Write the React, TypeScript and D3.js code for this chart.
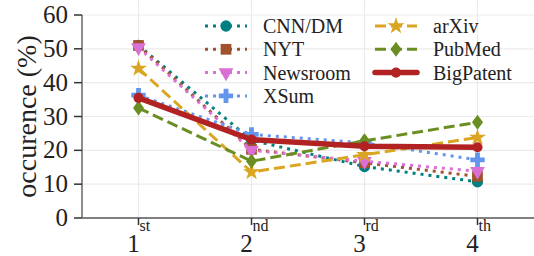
import React from 'react'
import * as d3 from 'd3'

// ranks along the x axis
const ranks = ['1', '2', '3', '4']
const rankSuffix = ['st', 'nd', 'rd', 'th']

// occurence (%) per dataset, one value per rank
const cnndm = [51, 23, 15.2, 10.7]
const nyt = [51, 20.3, 16.3, 12.3]
const newsroom = [50.4, 20, 16.8, 13.8]
const xsum = [36.3, 24.7, 22.2, 17.2]
const arxiv = [44.2, 13.6, 18.7, 23.8]
const pubmed = [32.5, 16.8, 22.8, 28.3]
const bigpatent = [35.5, 23.2, 21.2, 20.9]

const yTicks = [0, 10, 20, 30, 40, 50, 60]

const series = [
  { name: 'CNN/DM', values: cnndm, color: '#008080', dash: '3,5', width: 3, marker: 'circle' },
  { name: 'NYT', values: nyt, color: '#a0522d', dash: '3,5', width: 3, marker: 'square' },
  { name: 'Newsroom', values: newsroom, color: '#da70d6', dash: '3,5', width: 3, marker: 'tri' },
  { name: 'XSum', values: xsum, color: '#6495ed', dash: '3,5', width: 3, marker: 'plus' },
  { name: 'arXiv', values: arxiv, color: '#daa520', dash: '11,5', width: 3, marker: 'star' },
  { name: 'PubMed', values: pubmed, color: '#6b8e23', dash: '11,5', width: 3, marker: 'diamond' },
  { name: 'BigPatent', values: bigpatent, color: '#b22222', dash: null, width: 5.5, marker: 'dot' }
]

const FONT = 'Liberation Serif'

function markerPath(kind: string) {
  if (kind === 'circle') return d3.symbol(d3.symbolCircle, 100)()
  if (kind === 'square') return d3.symbol(d3.symbolSquare, 115)()
  if (kind === 'tri') return d3.symbol(d3.symbolTriangle, 95)()
  if (kind === 'plus') return d3.symbol(d3.symbolCross, 115)()
  if (kind === 'star') return d3.symbol(d3.symbolStar, 90)()
  if (kind === 'dot') return d3.symbol(d3.symbolCircle, 80)()
  // thin diamond
  return 'M0,-7.5L5.5,0L0,7.5L-5.5,0Z'
}

function Marker({ kind, color, x, y }: { kind: string; color: string; x: number; y: number }) {
  const rot = kind === 'tri' ? ' rotate(180)' : ''
  return <path d={markerPath(kind) || ''} fill={color} transform={`translate(${x},${y})${rot}`} />
}

export default function App() {
  const width = 534, height = 256
  const left = 82, right = 534, top = 15, bottom = 218

  const x = d3.scalePoint().domain(ranks).range([left, right]).padding(0.5)
  const y = d3.scaleLinear().domain([0, 60]).range([bottom, top])

  const line = d3.line<number>()
    .x((d, i) => x(ranks[i]) as number)
    .y(d => y(d))

  const axisColor = '#808080'
  const gridColor = '#ebebeb'
  const txt = { fontFamily: FONT }

  return (
    <svg width={width} height={height} style={{ position: 'absolute', left: 0, top: 0, background: '#fff' }}>
      {/* grid */}
      {yTicks.map(t => (
        <line key={'gy' + t} x1={left} x2={right} y1={y(t)} y2={y(t)} stroke={gridColor} strokeWidth={1.2} />
      ))}
      {ranks.map(r => (
        <line key={'gx' + r} x1={x(r)} x2={x(r)} y1={top - 15} y2={bottom} stroke={gridColor} strokeWidth={1.2} />
      ))}

      {/* lines */}
      {series.map(s => (
        <g key={s.name}>
          <path d={line(s.values) || ''} fill="none" stroke={s.color} strokeWidth={s.width}
            strokeDasharray={s.dash || undefined} strokeLinecap={s.dash ? 'butt' : 'round'} />
          {s.values.map((v, i) => (
            <Marker key={i} kind={s.marker} color={s.color} x={x(ranks[i]) as number} y={y(v)} />
          ))}
        </g>
      ))}

      {/* axes */}
      <line x1={left} x2={left} y1={top} y2={bottom} stroke={axisColor} strokeWidth={1.8} />
      <line x1={left} x2={right} y1={bottom} y2={bottom} stroke={axisColor} strokeWidth={1.8} />
      {yTicks.map(t => (
        <g key={'ty' + t}>
          <line x1={left - 8} x2={left} y1={y(t)} y2={y(t)} stroke="#333" strokeWidth={1.5} />
          <text x={left - 14} y={y(t) + 8} textAnchor="end" fontSize={25} fill="#222" style={txt}>{t}</text>
        </g>
      ))}
      {ranks.map((r, i) => (
        <g key={'tx' + r}>
          <line x1={x(r)} x2={x(r)} y1={bottom} y2={bottom + 7} stroke="#333" strokeWidth={1.5} />
          <text x={(x(r) as number) - 5} y={252} textAnchor="middle" fontSize={25} fill="#222" style={txt}>{r}</text>
          <text x={(x(r) as number) + 1} y={231} textAnchor="start" fontSize={16} fill="#222" style={txt}>{rankSuffix[i]}</text>
        </g>
      ))}
      <text transform={`translate(36,${(top + bottom) / 2}) rotate(-90)`} textAnchor="middle"
        fontSize={28} fill="#222" style={txt}>occurence (%)</text>

      {/* legend */}
      {series.map((s, i) => {
        const col = i < 4 ? 0 : 1
        const row = i < 4 ? i : i - 4
        const x0 = col === 0 ? 205 : 375
        const ly = 26 + row * 23.3
        return (
          <g key={'lg' + s.name}>
            <line x1={x0} x2={x0 + 42} y1={ly} y2={ly} stroke={s.color} strokeWidth={s.width}
              strokeDasharray={s.dash || undefined} strokeLinecap={s.dash ? 'butt' : 'round'} />
            <Marker kind={s.marker} color={s.color} x={x0 + 21} y={ly} />
            <text x={x0 + 58} y={ly + 7} fontSize={20} fill="#222" style={txt}>{s.name}</text>
          </g>
        )
      })}
    </svg>
  )
}
